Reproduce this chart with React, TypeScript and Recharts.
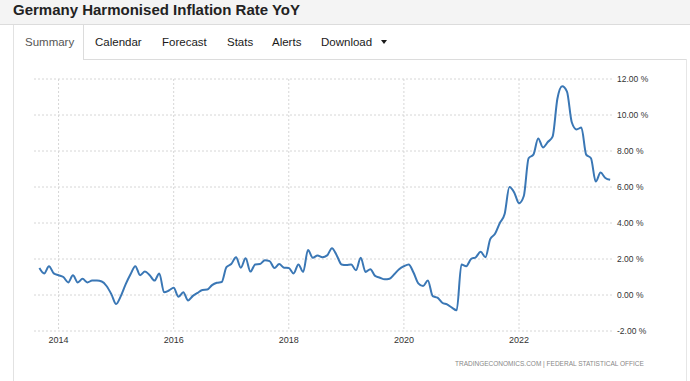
import React from "react";
import { LineChart, Line, XAxis, YAxis, CartesianGrid } from "recharts";

const title = "Germany Harmonised Inflation Rate YoY";
const tabs = ["Summary", "Calendar", "Forecast", "Stats", "Alerts", "Download"];
const source = "TRADINGECONOMICS.COM | FEDERAL STATISTICAL OFFICE";

// monthly, first value is Sep 2013, last is Aug 2023
const firstYear = 2013;
const firstMonth = 9;
const inflation = [
  1.5, 1.2, 1.6, 1.2,
  1.1, 1.0, 0.7, 1.1, 0.7, 0.9, 0.7, 0.8, 0.8, 0.75, 0.5, 0.05,
  -0.5, -0.05, 0.6, 1.15, 1.6, 1.1, 1.3, 1.1, 0.8, 1.2, 0.15, 0.25,
  0.4, -0.1, 0.15, -0.3, -0.05, 0.12, 0.28, 0.3, 0.55, 0.68, 0.72, 1.55,
  1.72, 2.1, 1.52, 2.04, 1.3, 1.7, 1.72, 1.93, 1.88, 1.5, 1.72, 1.52,
  1.5, 1.2, 1.7, 1.28, 2.5, 2.07, 2.2, 2.1, 2.2, 2.6, 2.2, 1.7,
  1.67, 1.7, 1.37, 2.07, 1.28, 1.43, 1.06, 0.96, 0.87, 0.9, 1.15, 1.43,
  1.6, 1.7, 1.25, 0.65, 0.5, 0.81, -0.06, -0.15, -0.43, -0.52, -0.7, -0.85,
  1.7, 1.6, 2.0, 2.1, 2.4, 2.1, 3.1, 3.4, 4.0, 4.5, 6.0, 5.7,
  5.1, 5.5, 7.6, 7.8, 8.7, 8.2, 8.5, 8.8, 10.9, 11.6, 11.3, 9.6,
  9.2, 9.3, 7.8, 7.6, 6.3, 6.8, 6.5, 6.4,
];
const yearTicks = [2014, 2016, 2018, 2020, 2022];
const rateTicks = [-2, 0, 2, 4, 6, 8, 10, 12];

const data = inflation.map((value, i) => ({
  t: firstYear + (firstMonth - 1 + i) / 12,
  value,
}));

const font = "Arial, 'Liberation Sans', sans-serif";
const tabLeft = [25, 95, 162, 227, 272, 321];

export default function App() {
  return (
    <div
      style={{
        position: "absolute",
        left: 0,
        top: 0,
        width: 690,
        height: 381,
        background: "#fff",
        fontFamily: font,
        overflow: "hidden",
      }}
    >
      {/* header */}
      <div
        style={{
          position: "absolute",
          left: 0,
          top: 0,
          width: 690,
          height: 24,
          background: "#f4f4f4",
          borderBottom: "1px solid #dcdcdc",
        }}
      />
      <div
        style={{
          position: "absolute",
          left: 13,
          top: 0,
          fontSize: 15,
          lineHeight: "19px",
          fontWeight: "bold",
          color: "#222",
        }}
      >
        {title}
      </div>

      {/* tab panel borders */}
      <div style={{ position: "absolute", left: 13, top: 25, width: 1, height: 356, background: "#e2e2e2" }} />
      <div style={{ position: "absolute", left: 83, top: 25, width: 1, height: 35, background: "#dcdcdc" }} />
      <div style={{ position: "absolute", left: 83, top: 59, width: 604, height: 1, background: "#dcdcdc" }} />
      <div style={{ position: "absolute", left: 686, top: 59, width: 1, height: 322, background: "#e6e6e6" }} />

      {tabs.map((t, i) => (
        <div
          key={t}
          style={{
            position: "absolute",
            left: tabLeft[i],
            top: 34,
            fontSize: 11.5,
            lineHeight: "16px",
            color: i === 0 ? "#555" : "#1a1a1a",
          }}
        >
          {t}
        </div>
      ))}
      <div
        style={{
          position: "absolute",
          left: 381,
          top: 40,
          width: 0,
          height: 0,
          borderLeft: "3.5px solid transparent",
          borderRight: "3.5px solid transparent",
          borderTop: "4px solid #1a1a1a",
        }}
      />

      <div style={{ position: "absolute", left: 0, top: 0 }}>
        <LineChart
          width={690}
          height={381}
          data={data}
          margin={{ top: 79, right: 0, left: 34, bottom: 0 }}
        >
          <CartesianGrid stroke="#d6d6d6" strokeDasharray="2 2" syncWithTicks />
          <XAxis
            dataKey="t"
            type="number"
            domain={[2013.573, 2023.633]}
            ticks={yearTicks}
            interval={0}
            height={50}
            axisLine={false}
            tickLine={false}
            tickSize={0}
            tickMargin={6}
            tick={{ fontSize: 9, fill: "#333", fontFamily: font }}
            allowDataOverflow
          />
          <YAxis
            orientation="right"
            width={77}
            domain={[-2, 12]}
            ticks={rateTicks}
            interval={0}
            axisLine={false}
            tickLine={false}
            tickSize={0}
            tickMargin={4}
            tickFormatter={(v: number) => v.toFixed(2) + " %"}
            tick={{ fontSize: 8.5, fill: "#333", fontFamily: font }}
            allowDataOverflow
          />
          <Line
            type="monotone"
            dataKey="value"
            stroke="#3a77b5"
            strokeWidth={2}
            dot={false}
            activeDot={false}
            isAnimationActive={false}
          />
        </LineChart>
      </div>

      <div
        style={{
          position: "absolute",
          left: 455,
          top: 360,
          fontSize: 6.5,
          lineHeight: "8px",
          color: "#888",
          whiteSpace: "pre",
        }}
      >
        {source}
      </div>
    </div>
  );
}
